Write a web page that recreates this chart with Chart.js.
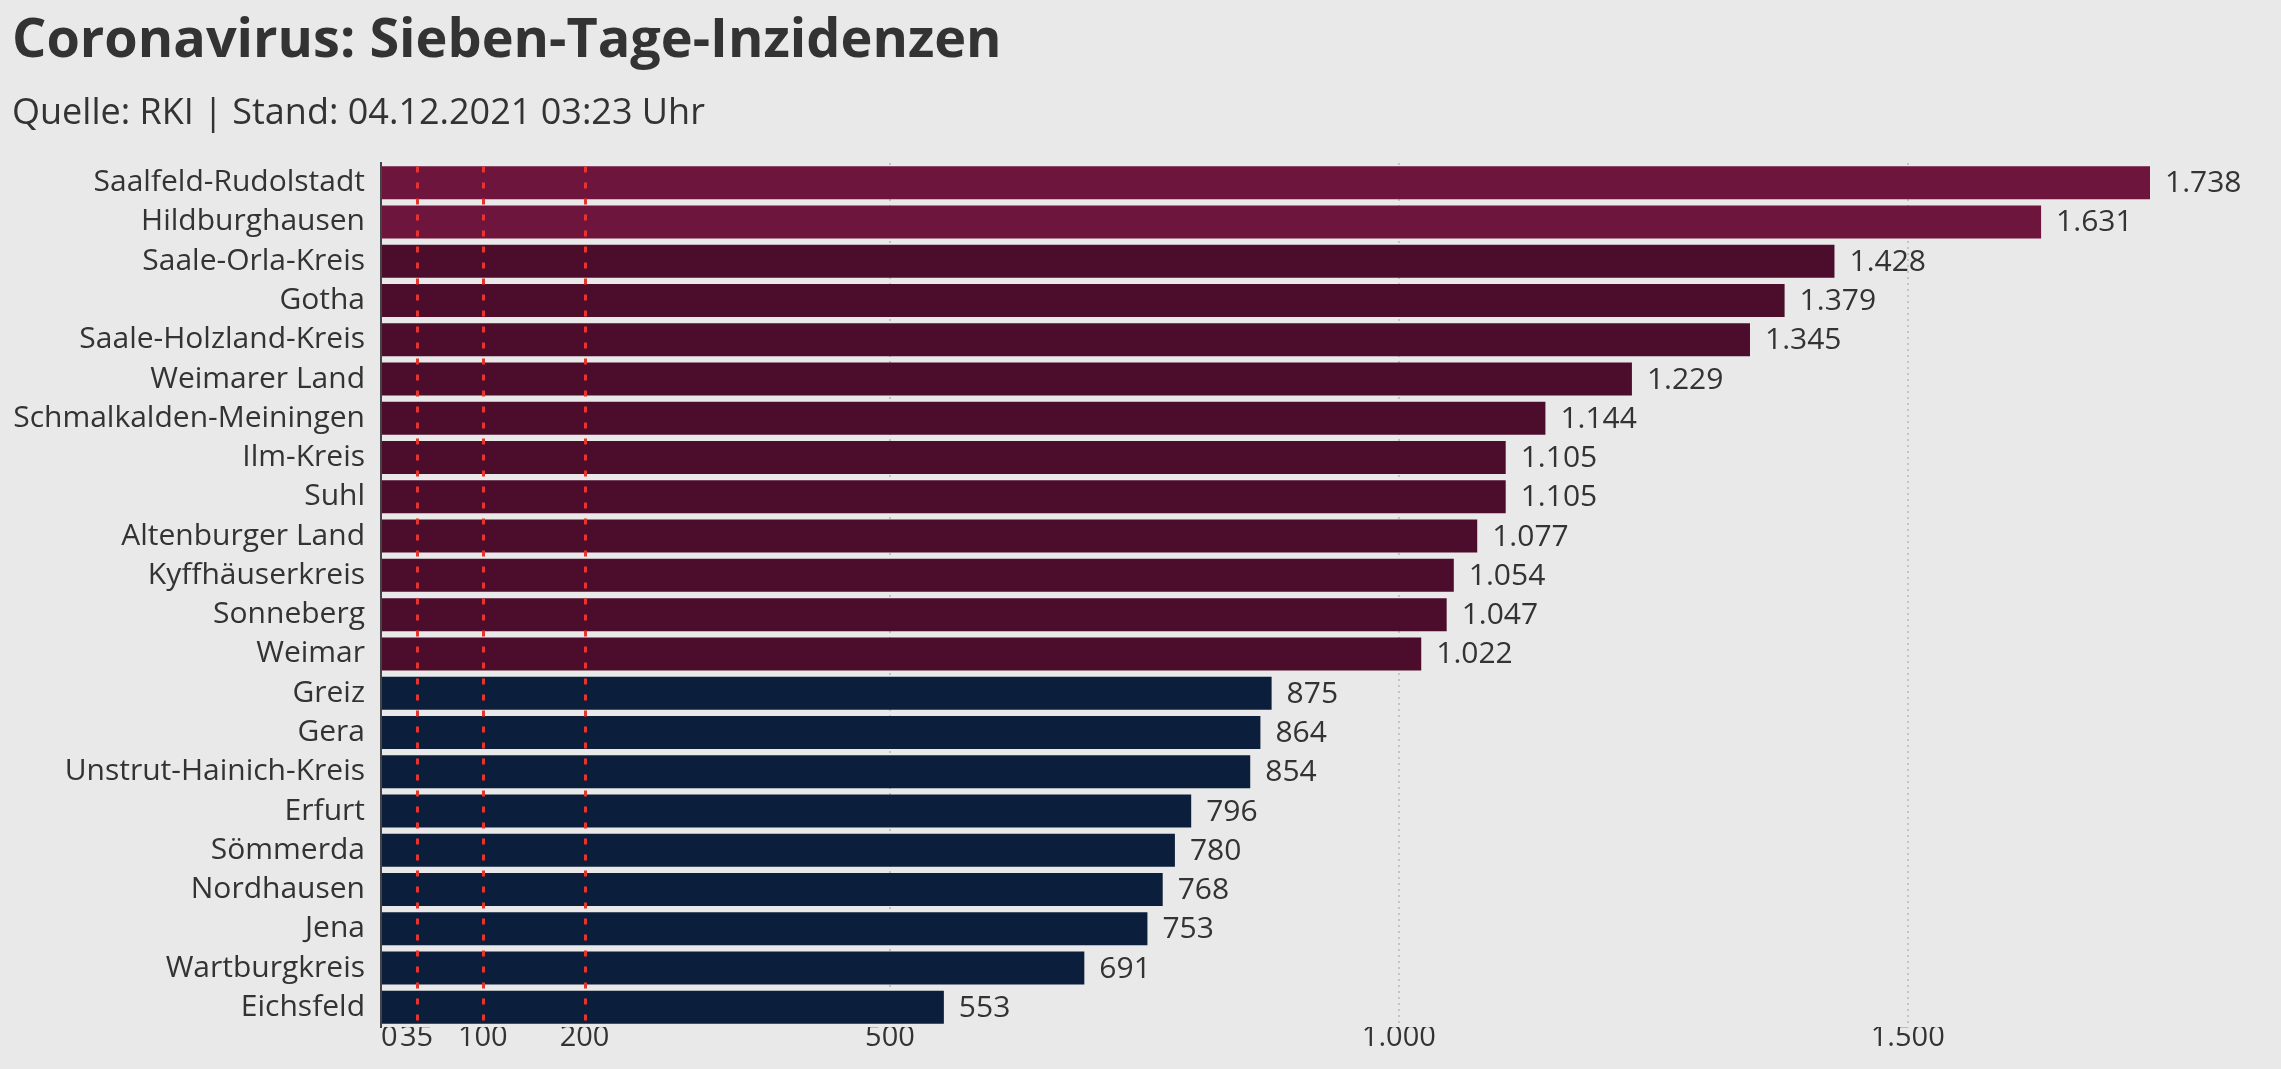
<!DOCTYPE html>
<html lang="de">
<head>
<meta charset="utf-8">
<title>Coronavirus: Sieben-Tage-Inzidenzen</title>
<script src="https://cdn.jsdelivr.net/npm/chart.js@4.4.1/dist/chart.umd.min.js"></script>
<style>
  html, body { margin: 0; padding: 0; background: #e9e9e9; }
  #wrap { position: relative; width: 2281px; height: 1069px; overflow: hidden; }
  #box { position: absolute; left: 0; top: 0; width: 2281px; height: 1069px; }
  h1 { position: absolute; left: 12px; top: 9px; margin: 0; font: 700 54px/1 "Open Sans"; color: #333; white-space: nowrap; }
  .sub { position: absolute; left: 12px; top: 93px; margin: 0; font: 400 36px/1 "Open Sans"; color: #333; white-space: nowrap; }
</style>
</head>
<body>
<div id="wrap">
  <div id="box"><canvas id="chart"></canvas></div>
  <h1>Coronavirus: Sieben-Tage-Inzidenzen</h1>
  <p class="sub">Quelle: RKI | Stand: 04.12.2021 03:23 Uhr</p>
</div>
<script>
'use strict';

var kreise = [
  'Saalfeld-Rudolstadt', 'Hildburghausen', 'Saale-Orla-Kreis', 'Gotha',
  'Saale-Holzland-Kreis', 'Weimarer Land', 'Schmalkalden-Meiningen', 'Ilm-Kreis',
  'Suhl', 'Altenburger Land', 'Kyffhäuserkreis', 'Sonneberg', 'Weimar',
  'Greiz', 'Gera', 'Unstrut-Hainich-Kreis', 'Erfurt', 'Sömmerda',
  'Nordhausen', 'Jena', 'Wartburgkreis', 'Eichsfeld'
];
var inzidenz = [
  1738, 1631, 1428, 1379, 1345, 1229, 1144, 1105, 1105, 1077, 1054, 1047, 1022,
  875, 864, 854, 796, 780, 768, 753, 691, 553
];
var xTicks = [0, 35, 100, 200, 500, 1000, 1500];
var grenzwerte = [35, 100, 200];
var xMax = 1850;

// 1738 -> "1.738"
function deNum(v) {
  return String(v).replace(/\B(?=(\d{3})+(?!\d))/g, '.');
}

function barColor(ctx) {
  if (ctx.dataIndex < 2) return '#6e153d';
  return ctx.raw >= 1000 ? '#4b0d2b' : '#0b1f3c';
}

// red dashed threshold lines on top of the bars
var grenzLinien = {
  id: 'grenzLinien',
  afterDatasetsDraw: function (chart) {
    var ctx = chart.ctx, area = chart.chartArea, x = chart.scales.x;
    ctx.save();
    ctx.strokeStyle = '#e8352b';
    ctx.lineWidth = 3;
    ctx.setLineDash([6, 10]);
    grenzwerte.forEach(function (v) {
      var px = Math.round(x.getPixelForValue(v)) + 0.5;
      ctx.beginPath();
      ctx.moveTo(px, area.top + 3.5);
      ctx.lineTo(px, area.bottom);
      ctx.stroke();
    });
    ctx.restore();
  }
};

// value labels right of each bar
var werte = {
  id: 'werte',
  afterDatasetsDraw: function (chart) {
    var ctx = chart.ctx, meta = chart.getDatasetMeta(0);
    ctx.save();
    ctx.font = '30px "Open Sans"';
    ctx.fillStyle = '#333';
    ctx.textBaseline = 'middle';
    meta.data.forEach(function (bar, i) {
      ctx.fillText(deNum(inzidenz[i]), bar.x + 15, bar.y + 1);
    });
    ctx.restore();
  }
};

new Chart(document.getElementById('chart'), {
  type: 'bar',
  data: {
    labels: kreise,
    datasets: [{
      data: inzidenz,
      backgroundColor: barColor,
      borderWidth: 0,
      barPercentage: 0.84,
      categoryPercentage: 1
    }]
  },
  options: {
    indexAxis: 'y',
    responsive: true,
    maintainAspectRatio: false,
    animation: false,
    layout: { padding: { top: 163, right: 17, bottom: 0, left: 0 } },
    plugins: {
      legend: { display: false },
      tooltip: { enabled: false }
    },
    scales: {
      x: {
        min: 0,
        max: xMax,
        afterBuildTicks: function (scale) {
          scale.ticks = xTicks.map(function (v) { return { value: v }; });
        },
        afterFit: function (scale) { scale.height = 42; },
        border: { display: false, dash: [2, 4] },
        grid: {
          drawTicks: false,
          lineWidth: 2,
          color: function (ctx) {
            var v = ctx.tick && ctx.tick.value;
            return (v === 0 || grenzwerte.indexOf(v) >= 0) ? 'rgba(0,0,0,0)' : '#c4c4c4';
          }
        },
        ticks: {
          autoSkip: false,
          maxRotation: 0,
          padding: -7,
          color: '#333',
          font: { family: 'Open Sans', size: 29 },
          // the zero label sits right of the axis, like in the original
          callback: function (v) { return v === 0 ? '\u20070' : deNum(v); }
        }
      },
      y: {
        afterFit: function (scale) { scale.width = 381; },
        border: { color: '#444', width: 2 },
        grid: { display: false, drawTicks: false },
        ticks: {
          padding: 16,
          color: '#333',
          font: { family: 'Open Sans', size: 30 }
        }
      }
    }
  },
  plugins: [grenzLinien, werte]
});
</script>
</body>
</html>
